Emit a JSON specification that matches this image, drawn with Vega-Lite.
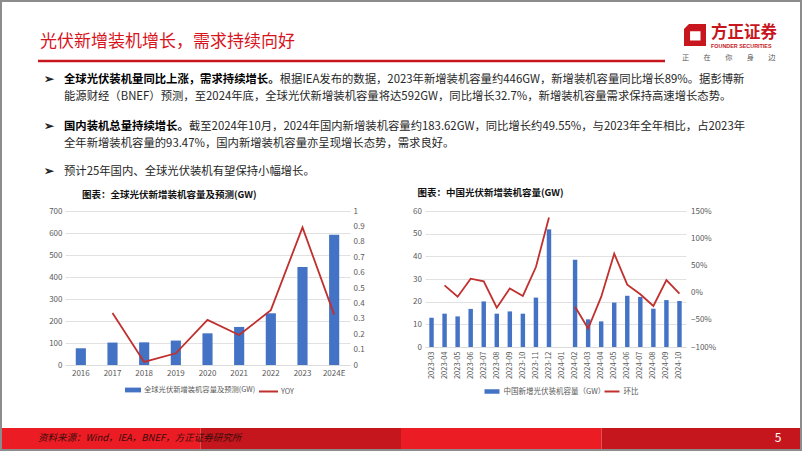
{
"$schema": "https://vega.github.io/schema/vega-lite/v6.json",
"background": "white",
"padding": 0,
"bounds": "flush",
"spacing": 0,
"resolve": {"scale": {"fill": "independent", "stroke": "independent", "color": "independent"}},
"config": {
  "font": "Noto Sans CJK SC",
  "view": {"stroke": null},
  "axis": {"labelFont": "Noto Sans CJK SC", "labelColor": "#595959", "labelFontSize": 8, "ticks": false, "domain": false, "gridColor": "#d9d9d9", "gridWidth": 0.8},
  "legend": {"labelFont": "Noto Sans CJK SC", "labelColor": "#595959", "padding": 0},
  "title": {"font": "Noto Sans CJK SC", "fontWeight": "bold", "fontSize": 9.5, "color": "#111111", "anchor": "start", "frame": "group"},
  "text": {"font": "Noto Sans CJK SC"}
},
"hconcat": [
 {
  "width": 65, "height": 154,
  "layer": [
   {"data": {"values": [{"seg": "1", "tone": "light"}, {"seg": "2", "tone": "dark"}, {"seg": "3", "tone": "light"}, {"seg": "4", "tone": "dark"}]},
    "mark": {"type": "bar"},
    "encoding": {"x": {"field": "seg", "type": "nominal", "scale": {"range": [0, 802], "paddingInner": 0, "paddingOuter": 0}, "axis": null}, "y": {"value": 217}, "y2": {"value": 238}, "color": {"field": "tone", "type": "nominal", "scale": {"domain": ["light", "dark"], "range": ["#ec1c24", "#c4161c"]}, "legend": null}}},
   {"data": {"values": [{"t": "资料来源：Wind，IEA，BNEF，方正证券研究所"}]}, "mark": {"type": "text", "align": "left", "baseline": "middle", "fontSize": 9.5, "fontStyle": "italic", "color": "#3b0c0c"}, "encoding": {"text": {"field": "t"}, "x": {"value": 38}, "y": {"value": 227}}},
   {"data": {"values": [{"t": "5"}]}, "mark": {"type": "text", "align": "center", "baseline": "middle", "fontSize": 12, "color": "white"}, "encoding": {"text": {"field": "t"}, "x": {"value": 778}, "y": {"value": 227}}},
   {"data": {"values": [{}]}, "mark": {"type": "rect", "fillOpacity": 0, "stroke": "#8c8c8c", "strokeWidth": 2}, "encoding": {"x": {"value": 1}, "x2": {"value": 801}, "y": {"value": -210}, "y2": {"value": 239}}},
   {"data": {"values": [{"t": "光伏新增装机增长，需求持续向好"}]}, "mark": {"type": "text", "align": "left", "baseline": "middle", "fontSize": 17, "color": "#d7141e"}, "encoding": {"text": {"field": "t"}, "x": {"value": 40}, "y": {"value": -169}}},
   {"data": {"values": [{}]}, "mark": {"type": "rule", "color": "#c8161e", "strokeWidth": 2.5}, "encoding": {"x": {"value": 38}, "x2": {"value": 665}, "y": {"value": -150}}},
   {"data": {"values": [{}]}, "mark": {"type": "point", "shape": "M-1,-0.55L-0.55,-1H1V1H-1Z M-0.45,-0.35V0.5H0.5V-0.35Z", "filled": true, "color": "#c8161e", "opacity": 1, "size": 484}, "encoding": {"x": {"value": 695}, "y": {"value": -176}}},
   {"data": {"values": [{"t": "方正证券"}]}, "mark": {"type": "text", "align": "left", "baseline": "middle", "fontSize": 16.5, "fontWeight": "bold", "color": "#c8161e"}, "encoding": {"text": {"field": "t"}, "x": {"value": 711}, "y": {"value": -178}}},
   {"data": {"values": [{"t": "FOUNDER SECURITIES"}]}, "mark": {"type": "text", "align": "left", "baseline": "middle", "fontSize": 5.4, "fontWeight": "bold", "font": "Liberation Sans", "color": "#c8161e"}, "encoding": {"text": {"field": "t"}, "x": {"value": 711}, "y": {"value": -165}}},
   {"data": {"values": [{"t": "正　　在　　你　　身　　边"}]}, "mark": {"type": "text", "align": "left", "baseline": "middle", "fontSize": 7.2, "color": "#595959"}, "encoding": {"text": {"field": "t"}, "x": {"value": 682}, "y": {"value": -153}}},
   {"data": {"values": [{"t": "➢"}]}, "mark": {"type": "text", "align": "left", "baseline": "middle", "fontSize": 11.5, "fontWeight": "bold", "color": "#1f1f1f"}, "encoding": {"text": {"field": "t"}, "x": {"value": 44}, "y": {"value": -131}}},
   {"data": {"values": [{"t": "➢"}]}, "mark": {"type": "text", "align": "left", "baseline": "middle", "fontSize": 11.5, "fontWeight": "bold", "color": "#1f1f1f"}, "encoding": {"text": {"field": "t"}, "x": {"value": 44}, "y": {"value": -84}}},
   {"data": {"values": [{"t": "➢"}]}, "mark": {"type": "text", "align": "left", "baseline": "middle", "fontSize": 11.5, "fontWeight": "bold", "color": "#1f1f1f"}, "encoding": {"text": {"field": "t"}, "x": {"value": 44}, "y": {"value": -39}}},
   {"data": {"values": [{"t": "全球光伏装机量同比上涨，需求持续增长。"}]}, "mark": {"type": "text", "align": "left", "baseline": "middle", "fontSize": 11.35, "fontWeight": "bold", "color": "#000000"}, "encoding": {"text": {"field": "t"}, "x": {"value": 64}, "y": {"value": -131}}},
   {"data": {"values": [{"t": "根据IEA发布的数据，2023年新增装机容量约446GW，新增装机容量同比增长89%。据彭博新"}]}, "mark": {"type": "text", "align": "left", "baseline": "middle", "fontSize": 11.35, "color": "#262626"}, "encoding": {"text": {"field": "t"}, "x": {"value": 279.7}, "y": {"value": -131}}},
   {"data": {"values": [{"t": "能源财经（BNEF）预测，至2024年底，全球光伏新增装机容量将达592GW，同比增长32.7%，新增装机容量需求保持高速增长态势。"}]}, "mark": {"type": "text", "align": "left", "baseline": "middle", "fontSize": 11.35, "color": "#262626"}, "encoding": {"text": {"field": "t"}, "x": {"value": 64}, "y": {"value": -114}}},
   {"data": {"values": [{"t": "国内装机总量持续增长。"}]}, "mark": {"type": "text", "align": "left", "baseline": "middle", "fontSize": 11.35, "fontWeight": "bold", "color": "#000000"}, "encoding": {"text": {"field": "t"}, "x": {"value": 64}, "y": {"value": -84}}},
   {"data": {"values": [{"t": "截至2024年10月，2024年国内新增装机容量约183.62GW，同比增长约49.55%，与2023年全年相比，占2023年"}]}, "mark": {"type": "text", "align": "left", "baseline": "middle", "fontSize": 11.35, "color": "#262626"}, "encoding": {"text": {"field": "t"}, "x": {"value": 188.9}, "y": {"value": -84}}},
   {"data": {"values": [{"t": "全年新增装机容量的93.47%，国内新增装机容量亦呈现增长态势，需求良好。"}]}, "mark": {"type": "text", "align": "left", "baseline": "middle", "fontSize": 11.35, "color": "#262626"}, "encoding": {"text": {"field": "t"}, "x": {"value": 64}, "y": {"value": -67}}},
   {"data": {"values": [{"t": "预计25年国内、全球光伏装机有望保持小幅增长。"}]}, "mark": {"type": "text", "align": "left", "baseline": "middle", "fontSize": 11.35, "color": "#262626"}, "encoding": {"text": {"field": "t"}, "x": {"value": 64}, "y": {"value": -39}}}
  ]
 },
 {
  "width": 285, "height": 154,
  "title": {"text": "图表：全球光伏新增装机容量及预测(GW)", "dx": 17, "offset": 8},
  "data": {"values": [
    {"year": "2016", "cap": 76, "yoy": null},
    {"year": "2017", "cap": 102, "yoy": 0.338},
    {"year": "2018", "cap": 103, "yoy": 0.02},
    {"year": "2019", "cap": 111, "yoy": 0.076},
    {"year": "2020", "cap": 144, "yoy": 0.293},
    {"year": "2021", "cap": 173, "yoy": 0.195},
    {"year": "2022", "cap": 235, "yoy": 0.356},
    {"year": "2023", "cap": 446, "yoy": 0.894},
    {"year": "2024E", "cap": 592, "yoy": 0.327}
  ]},
  "encoding": {"x": {"field": "year", "type": "ordinal", "sort": null, "scale": {"domain": ["2016", "2017", "2018", "2019", "2020", "2021", "2022", "2023", "2024E"], "paddingInner": 0.68, "paddingOuter": 0.34}, "axis": {"title": null, "labelAngle": 0, "domain": true, "domainColor": "#d9d9d9", "domainWidth": 0.8, "labelPadding": 4, "grid": false}}},
  "layer": [
   {"mark": {"type": "bar"}, "encoding": {
     "y": {"field": "cap", "type": "quantitative", "scale": {"domain": [0, 700]}, "axis": {"title": null, "orient": "left", "tickCount": 7, "grid": true, "labelPadding": 3}},
     "fill": {"datum": "全球光伏新增装机容量及预测(GW)", "type": "nominal", "scale": {"range": ["#4472c4"]}, "legend": {"title": null, "orient": "none", "legendX": 59, "legendY": 170, "symbolType": "M-1,-0.3H1V0.3H-1Z", "symbolSize": 256, "labelFontSize": 7.3, "labelOffset": 2}}}},
   {"mark": {"type": "line", "strokeWidth": 1.8}, "encoding": {
     "y": {"field": "yoy", "type": "quantitative", "scale": {"domain": [0, 1]}, "axis": {"title": null, "orient": "right", "tickCount": 10, "format": ".1~f", "grid": false, "labelPadding": 3}},
     "stroke": {"datum": "YOY", "type": "nominal", "scale": {"range": ["#c0302e"]}, "legend": {"title": null, "orient": "none", "legendX": 193, "legendY": 170, "symbolType": "stroke", "symbolSize": 361, "symbolStrokeWidth": 2, "labelFontSize": 7.3, "labelOffset": 2}}}}
  ],
  "resolve": {"scale": {"y": "independent"}}
 },
 {"width": 74.5, "height": 10, "data": {"values": []}, "mark": "point"},
 {
  "width": 261, "height": 136,
  "title": {"text": "图表：中国光伏新增装机容量(GW)", "dx": -7.5, "offset": 10},
  "data": {"values": [
    {"month": "2023-03", "cap": 12.9, "mom": null},
    {"month": "2023-04", "cap": 14.7, "mom": 0.134},
    {"month": "2023-05", "cap": 13.5, "mom": -0.075},
    {"month": "2023-06", "cap": 16.8, "mom": 0.256},
    {"month": "2023-07", "cap": 20.1, "mom": 0.207},
    {"month": "2023-08", "cap": 14.7, "mom": -0.277},
    {"month": "2023-09", "cap": 15.7, "mom": 0.078},
    {"month": "2023-10", "cap": 14.7, "mom": -0.062},
    {"month": "2023-11", "cap": 21.8, "mom": 0.47},
    {"month": "2023-12", "cap": 51.9, "mom": 1.38},
    {"month": "2024-01", "cap": null, "mom": null},
    {"month": "2024-02", "cap": 38.5, "mom": -0.26},
    {"month": "2024-03", "cap": 12.2, "mom": -0.66},
    {"month": "2024-04", "cap": 11.3, "mom": -0.08},
    {"month": "2024-05", "cap": 19.6, "mom": 0.715},
    {"month": "2024-06", "cap": 22.6, "mom": 0.146},
    {"month": "2024-07", "cap": 22.1, "mom": -0.03},
    {"month": "2024-08", "cap": 16.9, "mom": -0.245},
    {"month": "2024-09", "cap": 20.7, "mom": 0.23},
    {"month": "2024-10", "cap": 20.3, "mom": -0.02}
  ]},
  "encoding": {"x": {"field": "month", "type": "ordinal", "sort": null, "scale": {"domain": ["2023-03", "2023-04", "2023-05", "2023-06", "2023-07", "2023-08", "2023-09", "2023-10", "2023-11", "2023-12", "2024-01", "2024-02", "2024-03", "2024-04", "2024-05", "2024-06", "2024-07", "2024-08", "2024-09", "2024-10"], "paddingInner": 0.66, "paddingOuter": 0.33}, "axis": {"title": null, "labelAngle": -90, "labelFontSize": 7.5, "domain": true, "domainColor": "#d9d9d9", "domainWidth": 0.8, "labelPadding": 4, "grid": false}}},
  "layer": [
   {"mark": {"type": "bar"}, "encoding": {
     "y": {"field": "cap", "type": "quantitative", "scale": {"domain": [0, 60]}, "axis": {"title": null, "orient": "left", "tickCount": 6, "grid": true, "labelPadding": 3.5}},
     "fill": {"datum": "中国新增光伏装机容量（GW）", "type": "nominal", "scale": {"range": ["#4472c4"]}, "legend": {"title": null, "orient": "none", "legendX": 58.5, "legendY": 172, "symbolType": "M-1,-0.3H1V0.3H-1Z", "symbolSize": 225, "labelFontSize": 7.5, "labelOffset": 3}}}},
   {"mark": {"type": "line", "strokeWidth": 1.8}, "encoding": {
     "y": {"field": "mom", "type": "quantitative", "scale": {"domain": [-1, 1.5]}, "axis": {"title": null, "orient": "right", "tickCount": 5, "format": ".0%", "grid": false, "labelPadding": 4.5}},
     "stroke": {"datum": "环比", "type": "nominal", "scale": {"range": ["#c0302e"]}, "legend": {"title": null, "orient": "none", "legendX": 178.5, "legendY": 172, "symbolType": "stroke", "symbolSize": 225, "symbolStrokeWidth": 2, "labelFontSize": 7.5, "labelOffset": 3}}}}
  ],
  "resolve": {"scale": {"y": "independent"}}
 }
]
}
